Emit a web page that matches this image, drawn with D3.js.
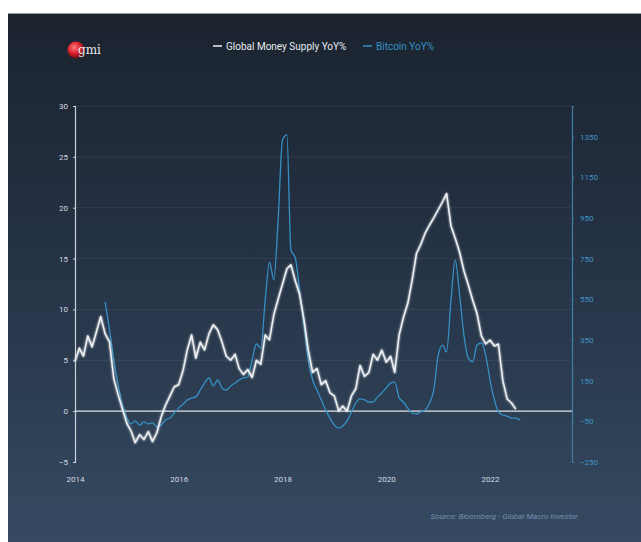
<!DOCTYPE html>
<html>
<head>
<meta charset="utf-8">
<script src="https://cdn.jsdelivr.net/npm/d3@7"></script>
<style>
  body { margin: 0; background: #fff; }
  text { font-family: "Liberation Sans Narrow", "Roboto", "Open Sans", sans-serif; }
</style>
</head>
<body>
<div class="canvas"></div>
<script>
// monthly values, Global Money Supply YoY% starts Jan 2014 (left axis)
const moneyStart = [2014, 0]
const moneySupply = [
  4.9, 6.2, 5.4, 7.4, 6.3, 7.8, 9.3, 7.6, 6.8, 3.2, 1.6, 0.2,
  -1.2, -2.0, -3.1, -2.3, -2.8, -2.0, -3.0, -2.1, -0.5, 0.6, 1.5, 2.4,
  2.6, 4.0, 6.0, 7.5, 5.2, 6.8, 6.0, 7.6, 8.5, 8.0, 6.8, 5.4,
  5.0, 5.6, 4.2, 3.6, 4.1, 3.3, 5.0, 4.6, 7.5, 7.0, 9.5, 11.0,
  12.5, 14.0, 14.4, 12.8, 11.5, 9.0, 6.0, 3.8, 4.2, 2.6, 3.0, 1.8,
  1.5, 0.0, 0.5, 0.0, 1.5, 2.2, 4.5, 3.4, 3.8, 5.6, 5.0, 6.0,
  4.8, 5.4, 3.8, 7.5, 9.2, 10.6, 12.8, 15.5, 16.4, 17.5, 18.3, 19.0,
  19.8, 20.6, 21.4, 18.2, 17.0, 15.6, 13.8, 12.4, 10.9, 9.6, 7.4, 6.6,
  7.0, 6.4, 6.6, 3.0, 1.2, 0.8, 0.2
]
// monthly values, Bitcoin YoY% starts Aug 2014 (right axis)
const btcStart = [2014, 7]
const bitcoin = [
  537, 399, 251, 129, 30,
  -34, -63, -48, -68, -53, -63, -58, -78, -68, -43, -34, -9,
  15, 35, 55, 65, 70, 104, 138, 163, 124, 153, 114, 104,
  124, 138, 153, 163, 168, 251, 330, 310, 546, 733, 645, 940,
  1333, 1358, 792, 753, 596, 424, 251, 153, 104, 55, 5, -34,
  -68, -83, -73, -48, -4, 40, 60, 55, 45, 45, 70, 89,
  114, 138, 143, 65, 45, 15, -9, -14, -4, 5, 40, 104,
  276, 325, 291, 546, 743, 571, 374, 261, 242, 325, 335, 276,
  153, 55, -4, -19, -24, -34, -34, -43
]
const leftTicks = [-5, 0, 5, 10, 15, 20, 25, 30]
const rightTicks = [-250, -50, 150, 350, 550, 750, 950, 1150, 1350]
const yearTicks = [2014, 2016, 2018, 2020, 2022]
const legendNames = ["Global Money Supply YoY%", "Bitcoin YoY%"]

const W = 641, H = 542
const white = "#eef1f4", blue = "#3590c4"

const svg = d3.select(".canvas").append("svg").attr("width", W).attr("height", H)
const defs = svg.append("defs")

const bg = defs.append("linearGradient").attr("id", "bg").attr("x1", 0).attr("y1", 0).attr("x2", 0).attr("y2", 1)
bg.append("stop").attr("offset", "0%").attr("stop-color", "#1b232f")
bg.append("stop").attr("offset", "50%").attr("stop-color", "#263447")
bg.append("stop").attr("offset", "100%").attr("stop-color", "#354a61")

const ball = defs.append("radialGradient").attr("id", "ball").attr("cx", "40%").attr("cy", "35%").attr("r", "65%")
ball.append("stop").attr("offset", "0%").attr("stop-color", "#ff7a7a")
ball.append("stop").attr("offset", "55%").attr("stop-color", "#d9202a")
ball.append("stop").attr("offset", "100%").attr("stop-color", "#6e0e14")

const glow = defs.append("filter").attr("id", "glow").attr("x", "-5%").attr("y", "-5%").attr("width", "110%").attr("height", "110%")
glow.append("feGaussianBlur").attr("stdDeviation", 0.8).attr("result", "b")
const merge = glow.append("feMerge")
merge.append("feMergeNode").attr("in", "b")
merge.append("feMergeNode").attr("in", "SourceGraphic")

svg.append("rect").attr("x", 8).attr("y", 13).attr("width", W - 8).attr("height", H - 13).attr("fill", "url(#bg)")
svg.append("line").attr("x1", 8).attr("x2", W).attr("y1", 13.5).attr("y2", 13.5).attr("stroke", "#8d9aa5").attr("stroke-width", 1)

const x = d3.scaleTime().domain([new Date(2014, 0, 1), new Date(2023, 7, 1)]).range([75, 572])
const yL = d3.scaleLinear().domain([-5, 30]).range([462, 106])
const yR = d3.scaleLinear().domain([-250, 1500]).range([462, 106])

// grid
svg.append("g").selectAll("line").data(leftTicks.filter(d => d > 0)).join("line")
  .attr("x1", 75).attr("x2", 572).attr("y1", d => yL(d)).attr("y2", d => yL(d))
  .attr("stroke", "#ffffff").attr("stroke-opacity", 0.07)

// left axis
const axL = svg.append("g").attr("transform", "translate(75,0)")
  .call(d3.axisLeft(yL).tickValues(leftTicks).tickSize(2).tickPadding(5))
axL.select(".domain").attr("stroke", "#c9d1da").attr("stroke-width", 1.2)
axL.selectAll(".tick line").attr("stroke", "#c9d1da")
axL.selectAll(".tick text").attr("fill", "#d5dbe2").attr("font-size", 8)

// right axis
const axR = svg.append("g").attr("transform", "translate(572,0)")
  .call(d3.axisRight(yR).tickValues(rightTicks).tickFormat(d3.format("d")).tickSize(2).tickPadding(6))
axR.select(".domain").attr("stroke", "#3f7ea8").attr("stroke-width", 1.2)
axR.selectAll(".tick line").attr("stroke", "#3f7ea8")
axR.selectAll(".tick text").attr("fill", "#3f93c8").attr("font-size", 8)

// bottom labels
const axB = svg.append("g").attr("transform", "translate(0,470)")
  .call(d3.axisBottom(x).tickValues(yearTicks.map(y => new Date(y, 0, 1))).tickFormat(d3.timeFormat("%Y")).tickSize(0).tickPadding(6))
axB.select(".domain").remove()
axB.selectAll(".tick text").attr("fill", "#d5dbe2").attr("font-size", 8)

// zero line
svg.append("line").attr("x1", 75).attr("x2", 572).attr("y1", yL(0)).attr("y2", yL(0))
  .attr("stroke", "#dfe5ea").attr("stroke-width", 1.4)

const moneyData = moneySupply.map((v, i) => ({ date: new Date(moneyStart[0], moneyStart[1] + i, 1), v }))
const btcData = bitcoin.map((v, i) => ({ date: new Date(btcStart[0], btcStart[1] + i, 1), v }))

svg.append("path").datum(btcData)
  .attr("fill", "none").attr("stroke", blue).attr("stroke-width", 1.3).attr("stroke-linejoin", "round")
  .attr("d", d3.line().x(d => x(d.date)).y(d => yR(d.v)).curve(d3.curveMonotoneX))

svg.append("path").datum(moneyData)
  .attr("fill", "none").attr("stroke", white).attr("stroke-width", 1.5).attr("stroke-linejoin", "round")
  .attr("filter", "url(#glow)")
  .attr("d", d3.line().x(d => x(d.date)).y(d => yL(d.v)))

// legend
const lg = svg.append("g").attr("transform", "translate(213,46)")
lg.append("line").attr("x1", 0).attr("x2", 9).attr("stroke", white).attr("stroke-width", 1.5)
lg.append("text").attr("x", 13).attr("y", 3.5).attr("fill", "#e6eaee").attr("font-size", 10).text(legendNames[0])
lg.append("line").attr("x1", 150).attr("x2", 159).attr("stroke", blue).attr("stroke-width", 1.5)
lg.append("text").attr("x", 163).attr("y", 3.5).attr("fill", blue).attr("font-size", 10).text(legendNames[1])

// logo
svg.append("circle").attr("cx", 76).attr("cy", 50).attr("r", 8.5).attr("fill", "url(#ball)")
svg.append("text").attr("x", 78).attr("y", 54).attr("fill", "#e9e9ee").attr("font-size", 12)
  .style("font-family", "'DejaVu Serif', serif").text("gmi")

// source
svg.append("text").attr("x", 578).attr("y", 519).attr("text-anchor", "end")
  .attr("fill", "#6f90b0").attr("font-size", 8).attr("font-style", "italic")
  .text("Source: Bloomberg - Global Macro Investor")
</script>
</body>
</html>
